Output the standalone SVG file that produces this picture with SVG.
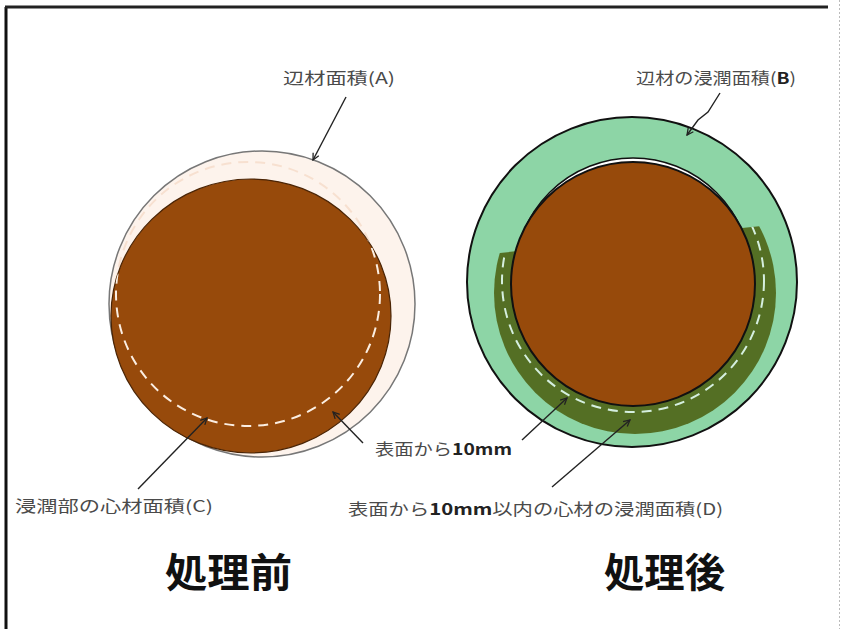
<svg xmlns="http://www.w3.org/2000/svg" width="841" height="629" viewBox="0 0 841 629">
  <defs>
    <style>
      .lbl { font-family: "Noto Sans CJK JP", "Noto Sans", sans-serif; font-size: 16px; fill: #4a4a4a; }
      .b { font-weight: bold; fill: #222; }
      .ttl { font-family: "Noto Sans CJK JP", sans-serif; font-size: 40px; font-weight: bold; fill: #111; }
      .arr { stroke: #222; stroke-width: 1.4; fill: none; marker-end: url(#ah); }
    </style>
    <marker id="ah" viewBox="0 0 10 10" refX="9" refY="5" markerWidth="8" markerHeight="8" markerUnits="userSpaceOnUse" orient="auto">
      <path d="M1,1 L9,5 L1,9" fill="none" stroke="#222" stroke-width="1.6"/>
    </marker>
    <clipPath id="clipL">
      <ellipse cx="251" cy="316" rx="140" ry="137"/>
    </clipPath>
    <clipPath id="clipDG">
      <polygon points="470,256 800,222 800,460 470,460"/>
    </clipPath>
  </defs>
  <rect width="841" height="629" fill="#ffffff"/>
  <g id="frame">
    <line x1="6" y1="7" x2="6" y2="629" stroke="#111" stroke-width="3"/>
    <line x1="5" y1="7" x2="828" y2="7" stroke="#222" stroke-width="3"/>
    <line x1="839.5" y1="0" x2="839.5" y2="629" stroke="#bbb" stroke-width="1" stroke-dasharray="2 2"/>
  </g>
  <g id="before">
    <circle cx="262" cy="304" r="153" fill="#fdf3ec" stroke="#777" stroke-width="1.5"/>
    <circle cx="248" cy="294" r="132" fill="none" stroke="#f7e0d0" stroke-width="2" stroke-dasharray="10 7"/>
    <ellipse cx="251" cy="316" rx="140" ry="137" fill="#974a0b" stroke="#4a2405" stroke-width="1.2"/>
    <circle cx="248" cy="294" r="132" fill="none" stroke="#fbeee2" stroke-width="2" stroke-dasharray="10 7" clip-path="url(#clipL)"/>
  </g>
  <g id="after">
    <circle cx="632" cy="282" r="165" fill="#8dd5a6" stroke="#111" stroke-width="2"/>
    <circle cx="633" cy="276" r="118" fill="#ffffff" stroke="#111" stroke-width="1.5"/>
    <circle cx="635" cy="293" r="141" fill="#546f24" clip-path="url(#clipDG)"/>
    <circle cx="633" cy="281" r="131" fill="none" stroke="#d5efdf" stroke-width="2" stroke-dasharray="10 7" clip-path="url(#clipDG)"/>
    <circle cx="633" cy="284" r="122" fill="#974a0b" stroke="#111" stroke-width="2"/>
  </g>
  <g id="connectors">
    <path class="arr" d="M346,97 L313,160"/>
    <path class="arr" d="M720,93 L708,112 L698,120 L687,135"/>
    <path class="arr" d="M363,443 L333,412"/>
    <path class="arr" d="M522,440 L567,398"/>
    <path class="arr" d="M138,489 L207,418"/>
    <path class="arr" d="M552,487 L630,420"/>
  </g>
  <g id="labels">
    <text class="lbl" x="283" y="84" textLength="112" lengthAdjust="spacingAndGlyphs">辺材面積(A)</text>
    <text class="lbl" x="636" y="84" textLength="160" lengthAdjust="spacingAndGlyphs">辺材の浸潤面積(<tspan class="b">B</tspan>)</text>
    <text class="lbl" x="375" y="455" textLength="137" lengthAdjust="spacingAndGlyphs">表面から<tspan class="b">10mm</tspan></text>
    <text class="lbl" x="15" y="512" textLength="198" lengthAdjust="spacingAndGlyphs">浸潤部の心材面積(C)</text>
    <text class="lbl" x="348" y="515" textLength="375" lengthAdjust="spacingAndGlyphs">表面から<tspan class="b">10mm</tspan>以内の心材の浸潤面積(D)</text>
    <text class="ttl" x="165" y="587" textLength="127" lengthAdjust="spacingAndGlyphs">処理前</text>
    <text class="ttl" x="604" y="587" textLength="121" lengthAdjust="spacingAndGlyphs">処理後</text>
  </g>
</svg>
